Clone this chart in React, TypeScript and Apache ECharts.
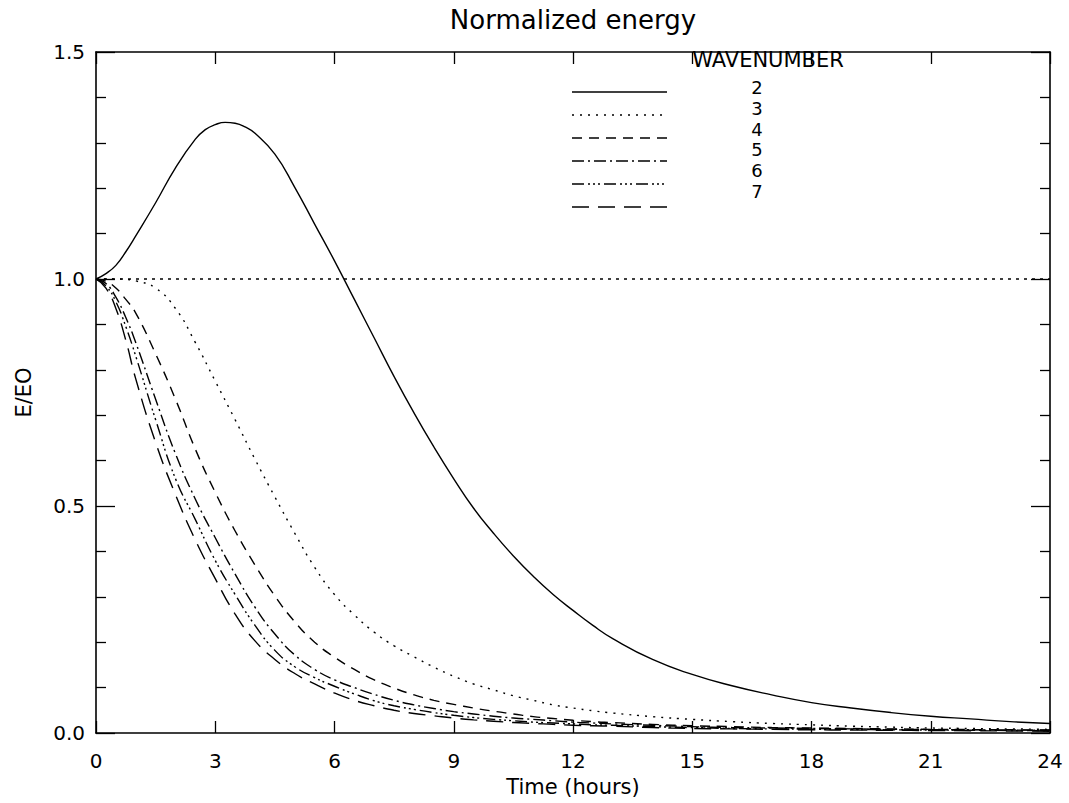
import React, { useEffect, useRef } from "react";
import * as echarts from "echarts";

// ---- Data ----
const TIME_HOURS = [0, 0.25, 0.5, 0.75, 1, 1.5, 2, 2.5, 3, 3.5, 4, 4.5, 5, 5.5, 6, 6.5, 7, 7.5, 8, 8.5, 9, 9.5, 10, 10.5, 11, 11.5, 12, 12.5, 13, 14, 15, 16, 17, 18, 19, 20, 21, 22, 23, 24];
// wavenumber 2 is read more finely around its peak
const TIME_HOURS_W2 = [0, 0.25, 0.5, 0.75, 1, 1.5, 2, 2.5, 2.75, 3, 3.25, 3.5, 3.75, 4, 4.5, 5, 5.5, 6, 6.5, 7, 7.5, 8, 8.5, 9, 9.5, 10, 10.5, 11, 11.5, 12, 12.5, 13, 14, 15, 16, 17, 18, 19, 20, 21, 22, 23, 24];

const WAVE2 = [1.0, 1.012, 1.03, 1.06, 1.095, 1.168, 1.245, 1.308, 1.329, 1.34, 1.345, 1.343, 1.335, 1.321, 1.275, 1.202, 1.121, 1.04, 0.955, 0.87, 0.785, 0.705, 0.63, 0.56, 0.495, 0.44, 0.39, 0.345, 0.305, 0.27, 0.237, 0.208, 0.162, 0.129, 0.104, 0.084, 0.067, 0.055, 0.045, 0.037, 0.031, 0.025, 0.021];
const WAVE3 = [1.0, 1.0, 1.0, 0.999, 0.996, 0.98, 0.935, 0.86, 0.775, 0.69, 0.603, 0.52, 0.44, 0.365, 0.305, 0.26, 0.222, 0.192, 0.168, 0.145, 0.125, 0.108, 0.095, 0.082, 0.072, 0.062, 0.055, 0.049, 0.044, 0.036, 0.03, 0.025, 0.021, 0.018, 0.015, 0.013, 0.011, 0.01, 0.009, 0.008];
const WAVE4 = [1.0, 0.995, 0.98, 0.955, 0.925, 0.835, 0.735, 0.625, 0.53, 0.445, 0.37, 0.302, 0.245, 0.2, 0.167, 0.14, 0.117, 0.099, 0.084, 0.072, 0.063, 0.055, 0.048, 0.042, 0.036, 0.032, 0.028, 0.025, 0.023, 0.019, 0.016, 0.014, 0.012, 0.011, 0.01, 0.009, 0.008, 0.0075, 0.007, 0.0065];
const WAVE5 = [1.0, 0.99, 0.96, 0.915, 0.86, 0.735, 0.615, 0.515, 0.43, 0.35, 0.277, 0.218, 0.172, 0.14, 0.117, 0.1, 0.085, 0.072, 0.062, 0.054, 0.047, 0.042, 0.037, 0.033, 0.03, 0.027, 0.024, 0.022, 0.02, 0.017, 0.014, 0.012, 0.011, 0.01, 0.009, 0.008, 0.0075, 0.007, 0.0065, 0.006];
const WAVE6 = [1.0, 0.985, 0.95, 0.895, 0.83, 0.69, 0.56, 0.47, 0.38, 0.305, 0.237, 0.182, 0.146, 0.122, 0.103, 0.086, 0.071, 0.06, 0.052, 0.045, 0.039, 0.034, 0.03, 0.027, 0.024, 0.022, 0.02, 0.018, 0.017, 0.014, 0.012, 0.01, 0.009, 0.0085, 0.008, 0.007, 0.0065, 0.006, 0.0055, 0.005];
const WAVE7 = [1.0, 0.98, 0.935, 0.865, 0.78, 0.64, 0.525, 0.425, 0.34, 0.262, 0.203, 0.162, 0.131, 0.108, 0.088, 0.072, 0.06, 0.05, 0.043, 0.038, 0.033, 0.029, 0.026, 0.023, 0.021, 0.019, 0.017, 0.016, 0.015, 0.012, 0.01, 0.009, 0.008, 0.007, 0.0065, 0.006, 0.0055, 0.005, 0.0045, 0.004];

const WAVENUMBERS = ["2", "3", "4", "5", "6", "7"];
const WAVE_VALUES = [WAVE2, WAVE3, WAVE4, WAVE5, WAVE6, WAVE7];
const WAVE_TIMES = [TIME_HOURS_W2, TIME_HOURS, TIME_HOURS, TIME_HOURS, TIME_HOURS, TIME_HOURS];
const REFERENCE_LEVEL = 1.0;

const X_TICKS = [0, 24, 3]; // min, max, interval
const Y_TICKS = [0, 1.5, 0.5];

const TITLE = "Normalized energy";
const X_NAME = "Time (hours)";
const Y_NAME = "E/EO";
const LEGEND_TITLE = "WAVENUMBER";

// ---- Styles ----
const FONT = '"DejaVu Sans", "Liberation Sans", sans-serif';
const DASHES: (number[] | "solid")[] = [
  "solid",
  [2, 6],
  [10, 7],
  [12, 4, 2, 4],
  [12, 4, 2, 3, 2, 3, 2, 4],
  [17, 9],
];

export default function App() {
  const ref = useRef<HTMLDivElement>(null);

  useEffect(() => {
    if (!ref.current) return;
    const chart = echarts.init(ref.current, null, { renderer: "svg" });

    const series: any[] = WAVE_VALUES.map((vals, i) => ({
      name: WAVENUMBERS[i],
      type: "line",
      data: WAVE_TIMES[i].map((t, j) => [t, vals[j]]),
      showSymbol: false,
      symbol: "none",
      smooth: 0.5,
      lineStyle: { color: "#000", width: 1.4, type: DASHES[i] },
      silent: true,
      z: 3,
    }));

    series.push({
      name: "reference",
      type: "line",
      data: [
        [X_TICKS[0], REFERENCE_LEVEL],
        [X_TICKS[1], REFERENCE_LEVEL],
      ],
      symbol: "none",
      lineStyle: { color: "#000", width: 1.6, type: [3, 5] },
      silent: true,
      z: 2,
    });

    const legendLineY = [92, 115, 138, 161, 184, 207];
    const legendNumY = [87, 108, 129, 149, 170, 191];
    const legendGraphics: any[] = [];
    WAVENUMBERS.forEach((w, i) => {
      legendGraphics.push({
        type: "line",
        shape: { x1: 572, y1: legendLineY[i], x2: 667, y2: legendLineY[i] },
        style: {
          stroke: "#000",
          lineWidth: 1.4,
          lineDash: DASHES[i] === "solid" ? null : (DASHES[i] as number[]),
        },
        silent: true,
      });
      legendGraphics.push({
        type: "text",
        style: {
          text: w,
          x: 757,
          y: legendNumY[i],
          align: "center",
          verticalAlign: "middle",
          fontSize: 18,
          lineHeight: 17,
          fontFamily: FONT,
          fill: "#000",
        },
        silent: true,
      });
    });
    legendGraphics.push({
      type: "text",
      style: {
        text: LEGEND_TITLE,
        x: 768,
        y: 60,
        align: "center",
        verticalAlign: "middle",
        fontSize: 21,
        lineHeight: 18,
        fontFamily: FONT,
        fill: "#000",
      },
      silent: true,
    });

    const axisLine = { show: true, onZero: false, lineStyle: { color: "#000", width: 1.6 } };
    const labelStyle = { color: "#000", fontSize: 20, fontFamily: FONT };

    chart.setOption({
      animation: false,
      backgroundColor: "#fff",
      title: {
        text: TITLE,
        left: 573,
        textAlign: "center",
        top: 7,
        padding: 0,
        textStyle: { color: "#000", fontSize: 26, fontWeight: "normal", fontFamily: FONT },
      },
      grid: { left: 96, right: 19, top: 52, bottom: 70, containLabel: false },
      xAxis: [
        {
          type: "value",
          position: "bottom",
          min: X_TICKS[0],
          max: X_TICKS[1],
          interval: X_TICKS[2],
          axisLine,
          axisTick: { show: true, inside: true, length: 12, lineStyle: { color: "#000", width: 1.3 } },
          axisLabel: { ...labelStyle, margin: 18 },
          splitLine: { show: false },
          name: X_NAME,
          nameLocation: "middle",
          nameGap: 43,
          nameTextStyle: { color: "#000", fontSize: 21, fontFamily: FONT },
        },
        {
          type: "value",
          position: "top",
          min: X_TICKS[0],
          max: X_TICKS[1],
          interval: X_TICKS[2],
          axisLine,
          axisTick: { show: true, inside: true, length: 12, lineStyle: { color: "#000", width: 1.3 } },
          axisLabel: { show: false },
          splitLine: { show: false },
        },
      ],
      yAxis: [
        {
          type: "value",
          position: "left",
          min: Y_TICKS[0],
          max: Y_TICKS[1],
          interval: Y_TICKS[2],
          axisLine,
          axisTick: { show: true, inside: true, length: 19, lineStyle: { color: "#000", width: 1.3 } },
          minorTick: { show: true, splitNumber: 5, length: 10, lineStyle: { color: "#000", width: 1.3 } },
          axisLabel: { ...labelStyle, margin: 11, formatter: (v: number) => v.toFixed(1) },
          splitLine: { show: false },
          minorSplitLine: { show: false },
          name: Y_NAME,
          nameLocation: "middle",
          nameGap: 62,
          nameTextStyle: { color: "#000", fontSize: 21, fontFamily: FONT },
        },
        {
          type: "value",
          position: "right",
          min: Y_TICKS[0],
          max: Y_TICKS[1],
          interval: Y_TICKS[2],
          axisLine,
          axisTick: { show: true, inside: true, length: 19, lineStyle: { color: "#000", width: 1.3 } },
          minorTick: { show: true, splitNumber: 5, length: 10, lineStyle: { color: "#000", width: 1.3 } },
          axisLabel: { show: false },
          splitLine: { show: false },
          minorSplitLine: { show: false },
        },
      ],
      graphic: legendGraphics,
      series,
    });

    return () => chart.dispose();
  }, []);

  return (
    <div
      ref={ref}
      style={{ position: "fixed", left: 0, top: 0, width: 1069, height: 803, background: "#fff" }}
    />
  );
}
